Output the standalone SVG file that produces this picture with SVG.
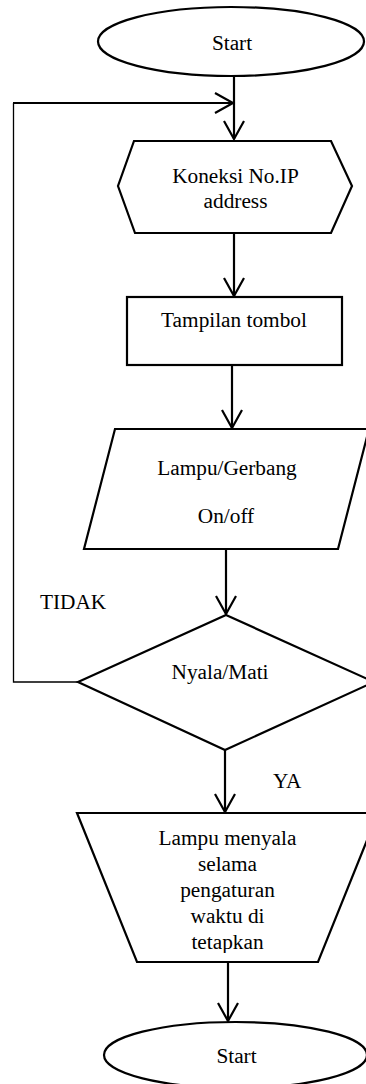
<svg xmlns="http://www.w3.org/2000/svg" width="366" height="1084" viewBox="0 0 366 1084">
<style>
.shape{fill:#fff;stroke:#000;stroke-width:2.2;stroke-linejoin:miter}
.conn{fill:none;stroke:#000;stroke-width:2.2}
.thin{fill:none;stroke:#000;stroke-width:1.3}
text{font-family:"Liberation Serif","Times New Roman",serif;font-size:21.3px;fill:#000}
.c{text-anchor:middle}
</style>
<defs>
<marker id="arr" markerUnits="userSpaceOnUse" markerWidth="40" markerHeight="40" viewBox="-20 -20 40 40" refX="0" refY="0" orient="auto" overflow="visible">
<path d="M-18,-10 L0,0 L-18,10" fill="none" stroke="#000" stroke-width="2.2"/>
</marker>
<clipPath id="trapClip"><rect x="0" y="800" width="366" height="153"/></clipPath>
</defs>
<rect width="366" height="1084" fill="#fff"/>
<g id="connectors">
<line class="conn" x1="234" y1="76" x2="234" y2="139" marker-end="url(#arr)"/>
<path class="thin" d="M78,682 H13.5 V103"/>
<line class="conn" x1="13" y1="103" x2="233" y2="103" marker-end="url(#arr)"/>
<line class="conn" x1="234" y1="233" x2="234" y2="296" marker-end="url(#arr)"/>
<line class="conn" x1="232" y1="365" x2="232" y2="428" marker-end="url(#arr)"/>
<line class="conn" x1="226" y1="549" x2="226" y2="614" marker-end="url(#arr)"/>
<line class="conn" x1="225" y1="750" x2="225" y2="812" marker-end="url(#arr)"/>
<line class="conn" x1="228" y1="962" x2="228" y2="1021" marker-end="url(#arr)"/>
<text x="40" y="609">TIDAK</text>
<text x="273" y="788">YA</text>
</g>
<g id="start">
<ellipse class="shape" cx="231" cy="41.5" rx="133" ry="34.5"/>
<text class="c" x="232" y="50">Start</text>
</g>
<g id="koneksi">
<polygon class="shape" points="134,141 331,141 352,186 331,233 135,233 118,186"/>
<text class="c" x="235.5" y="183">Koneksi No.IP</text>
<text class="c" x="235.5" y="208">address</text>
</g>
<g id="tampilan">
<rect class="shape" x="127" y="297" width="215" height="68"/>
<text class="c" x="234" y="327">Tampilan tombol</text>
</g>
<g id="lampu-gerbang">
<polygon class="shape" points="115,429 369,429 338,549 84,549"/>
<text class="c" x="227" y="475">Lampu/Gerbang</text>
<text class="c" x="226" y="523">On/off</text>
</g>
<g id="nyala-mati">
<polygon class="shape" points="226,615 374,682 225,750 78,682"/>
<text class="c" x="220" y="679">Nyala/Mati</text>
</g>
<g id="lampu-menyala">
<polygon class="shape" points="77,813 378,813 318,962 137,962"/>
<g clip-path="url(#trapClip)">
<text class="c" x="227.5" y="845">Lampu menyala</text>
<text class="c" x="227.5" y="871">selama</text>
<text class="c" x="227.5" y="897">pengaturan</text>
<text class="c" x="227.5" y="923">waktu di</text>
<text class="c" x="227.5" y="949">tetapkan</text>
</g>
</g>
<g id="end">
<ellipse class="shape" cx="235.5" cy="1055" rx="131.5" ry="33"/>
<text class="c" x="236.5" y="1063">Start</text>
</g>
</svg>
